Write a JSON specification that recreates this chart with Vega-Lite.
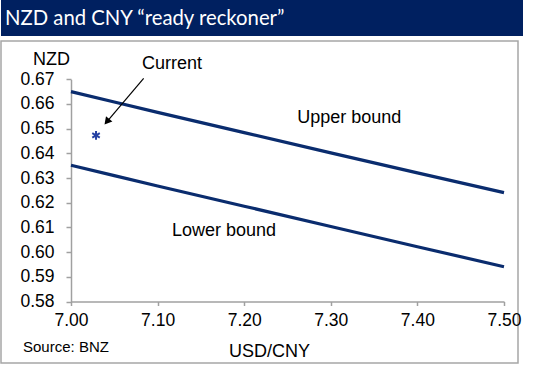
{
  "$schema": "https://vega.github.io/schema/vega-lite/v6.json",
  "padding": 0,
  "background": "white",
  "spacing": 4,
  "config": {"font": "Liberation Sans", "axis": {"labelOverlap": false, "labelBound": false}},
  "vconcat": [
    {
      "width": 522,
      "height": 36,
      "view": {"fill": "#002060", "stroke": null},
      "data": {"values": [{"title": "NZD and CNY “ready reckoner”"}]},
      "mark": {"type": "text", "align": "left", "baseline": "middle", "font": "Lato", "fontSize": 20.3, "color": "white", "x": 4, "y": 19},
      "encoding": {"text": {"field": "title", "type": "nominal"}}
    },
    {
      "width": 517,
      "height": 322,
      "view": {"stroke": "#a6a6a6", "strokeWidth": 1.5, "fill": "white"},
      "layer": [
        {
          "data": {"values": [
            {"usdcny": 7.00, "nzd": 0.6650, "bound": "Upper bound"},
            {"usdcny": 7.05, "nzd": 0.6608, "bound": "Upper bound"},
            {"usdcny": 7.10, "nzd": 0.6566, "bound": "Upper bound"},
            {"usdcny": 7.20, "nzd": 0.6484, "bound": "Upper bound"},
            {"usdcny": 7.30, "nzd": 0.6402, "bound": "Upper bound"},
            {"usdcny": 7.40, "nzd": 0.6321, "bound": "Upper bound"},
            {"usdcny": 7.50, "nzd": 0.6241, "bound": "Upper bound"},
            {"usdcny": 7.00, "nzd": 0.6352, "bound": "Lower bound"},
            {"usdcny": 7.05, "nzd": 0.6310, "bound": "Lower bound"},
            {"usdcny": 7.10, "nzd": 0.6268, "bound": "Lower bound"},
            {"usdcny": 7.20, "nzd": 0.6186, "bound": "Lower bound"},
            {"usdcny": 7.30, "nzd": 0.6104, "bound": "Lower bound"},
            {"usdcny": 7.40, "nzd": 0.6022, "bound": "Lower bound"},
            {"usdcny": 7.50, "nzd": 0.5941, "bound": "Lower bound"}
          ]},
          "mark": {"type": "line", "color": "#0a2c6e", "strokeWidth": 3.2},
          "encoding": {
            "x": {
              "field": "usdcny", "type": "quantitative",
              "scale": {"domain": [7.0, 7.5], "range": [70, 503], "nice": false, "zero": false},
              "axis": {
                "title": "USD/CNY", "values": [7.0, 7.1, 7.2, 7.3, 7.4, 7.5], "format": ".2f",
                "offset": -61.5, "grid": false, "labelOverlap": false,
                "domainColor": "#a0a0a0", "domainWidth": 1.5, "tickColor": "#a0a0a0", "tickWidth": 1.5, "tickSize": 4,
                "labelFont": "Liberation Sans", "labelFontSize": 17.5, "labelColor": "black", "labelPadding": 6, "labelFlush": false,
                "titleFont": "Liberation Sans", "titleFontSize": 18, "titleFontWeight": "normal", "titleColor": "black",
                "titleX": 268, "titleY": 50, "titleBaseline": "middle", "titleAlign": "center"
              }
            },
            "y": {
              "field": "nzd", "type": "quantitative",
              "scale": {"domain": [0.58, 0.67], "range": [260.5, 38.3], "nice": false, "zero": false},
              "axis": {
                "title": "NZD", "values": [0.58, 0.59, 0.6, 0.61, 0.62, 0.63, 0.64, 0.65, 0.66, 0.67], "format": ".2f",
                "tickCount": 10,
                "offset": -70, "grid": false, "labelOverlap": false,
                "domainColor": "#a0a0a0", "domainWidth": 1.5, "tickColor": "#a0a0a0", "tickWidth": 1.5, "tickSize": 5,
                "labelFont": "Liberation Sans", "labelFontSize": 17.5, "labelColor": "black", "labelPadding": 12, "labelFlush": false,
                "titleFont": "Liberation Sans", "titleFontSize": 18, "titleFontWeight": "normal", "titleColor": "black",
                "titleAngle": 0, "titleX": -20, "titleY": 18.5, "titleBaseline": "middle", "titleAlign": "center"
              }
            },
            "detail": {"field": "bound", "type": "nominal"}
          }
        },
        {
          "data": {"values": [{"usdcny": 7.0289, "nzd": 0.6473, "label": "Current"}]},
          "mark": {"type": "point", "shape": "M0,-1L0,1M-0.87,-0.5L0.87,0.5M-0.87,0.5L0.87,-0.5", "filled": false, "size": 75, "strokeWidth": 2, "color": "#2541a3", "opacity": 1},
          "encoding": {
            "x": {"field": "usdcny", "type": "quantitative"},
            "y": {"field": "nzd", "type": "quantitative"}
          }
        },
        {
          "data": {"values": [{"usdcny": 7.0839, "nzd": 0.6704, "usdcny2": 7.0423, "nzd2": 0.6532}]},
          "mark": {"type": "rule", "color": "black", "strokeWidth": 1.2},
          "encoding": {
            "x": {"field": "usdcny", "type": "quantitative"},
            "y": {"field": "nzd", "type": "quantitative"},
            "x2": {"field": "usdcny2"},
            "y2": {"field": "nzd2"}
          }
        },
        {
          "data": {"values": [{"usdcny": 7.0423, "nzd": 0.6532}]},
          "mark": {"type": "point", "shape": "triangle", "filled": true, "size": 70, "color": "black", "angle": 220, "opacity": 1},
          "encoding": {
            "x": {"field": "usdcny", "type": "quantitative"},
            "y": {"field": "nzd", "type": "quantitative"}
          }
        },
        {
          "data": {"values": [
            {"usdcny": 7.1166, "nzd": 0.6762, "label": "Current"},
            {"usdcny": 7.3214, "nzd": 0.6544, "label": "Upper bound"},
            {"usdcny": 7.1767, "nzd": 0.6086, "label": "Lower bound"}
          ]},
          "mark": {"type": "text", "align": "center", "baseline": "middle", "fontSize": 18, "color": "black", "font": "Liberation Sans"},
          "encoding": {
            "x": {"field": "usdcny", "type": "quantitative"},
            "y": {"field": "nzd", "type": "quantitative"},
            "text": {"field": "label", "type": "nominal"}
          }
        },
        {
          "data": {"values": [{"usdcny": 6.9446, "nzd": 0.5616, "label": "Source: BNZ"}]},
          "mark": {"type": "text", "align": "left", "baseline": "middle", "fontSize": 15, "color": "black", "font": "Liberation Sans"},
          "encoding": {
            "x": {"field": "usdcny", "type": "quantitative"},
            "y": {"field": "nzd", "type": "quantitative"},
            "text": {"field": "label", "type": "nominal"}
          }
        }
      ]
    }
  ]
}
